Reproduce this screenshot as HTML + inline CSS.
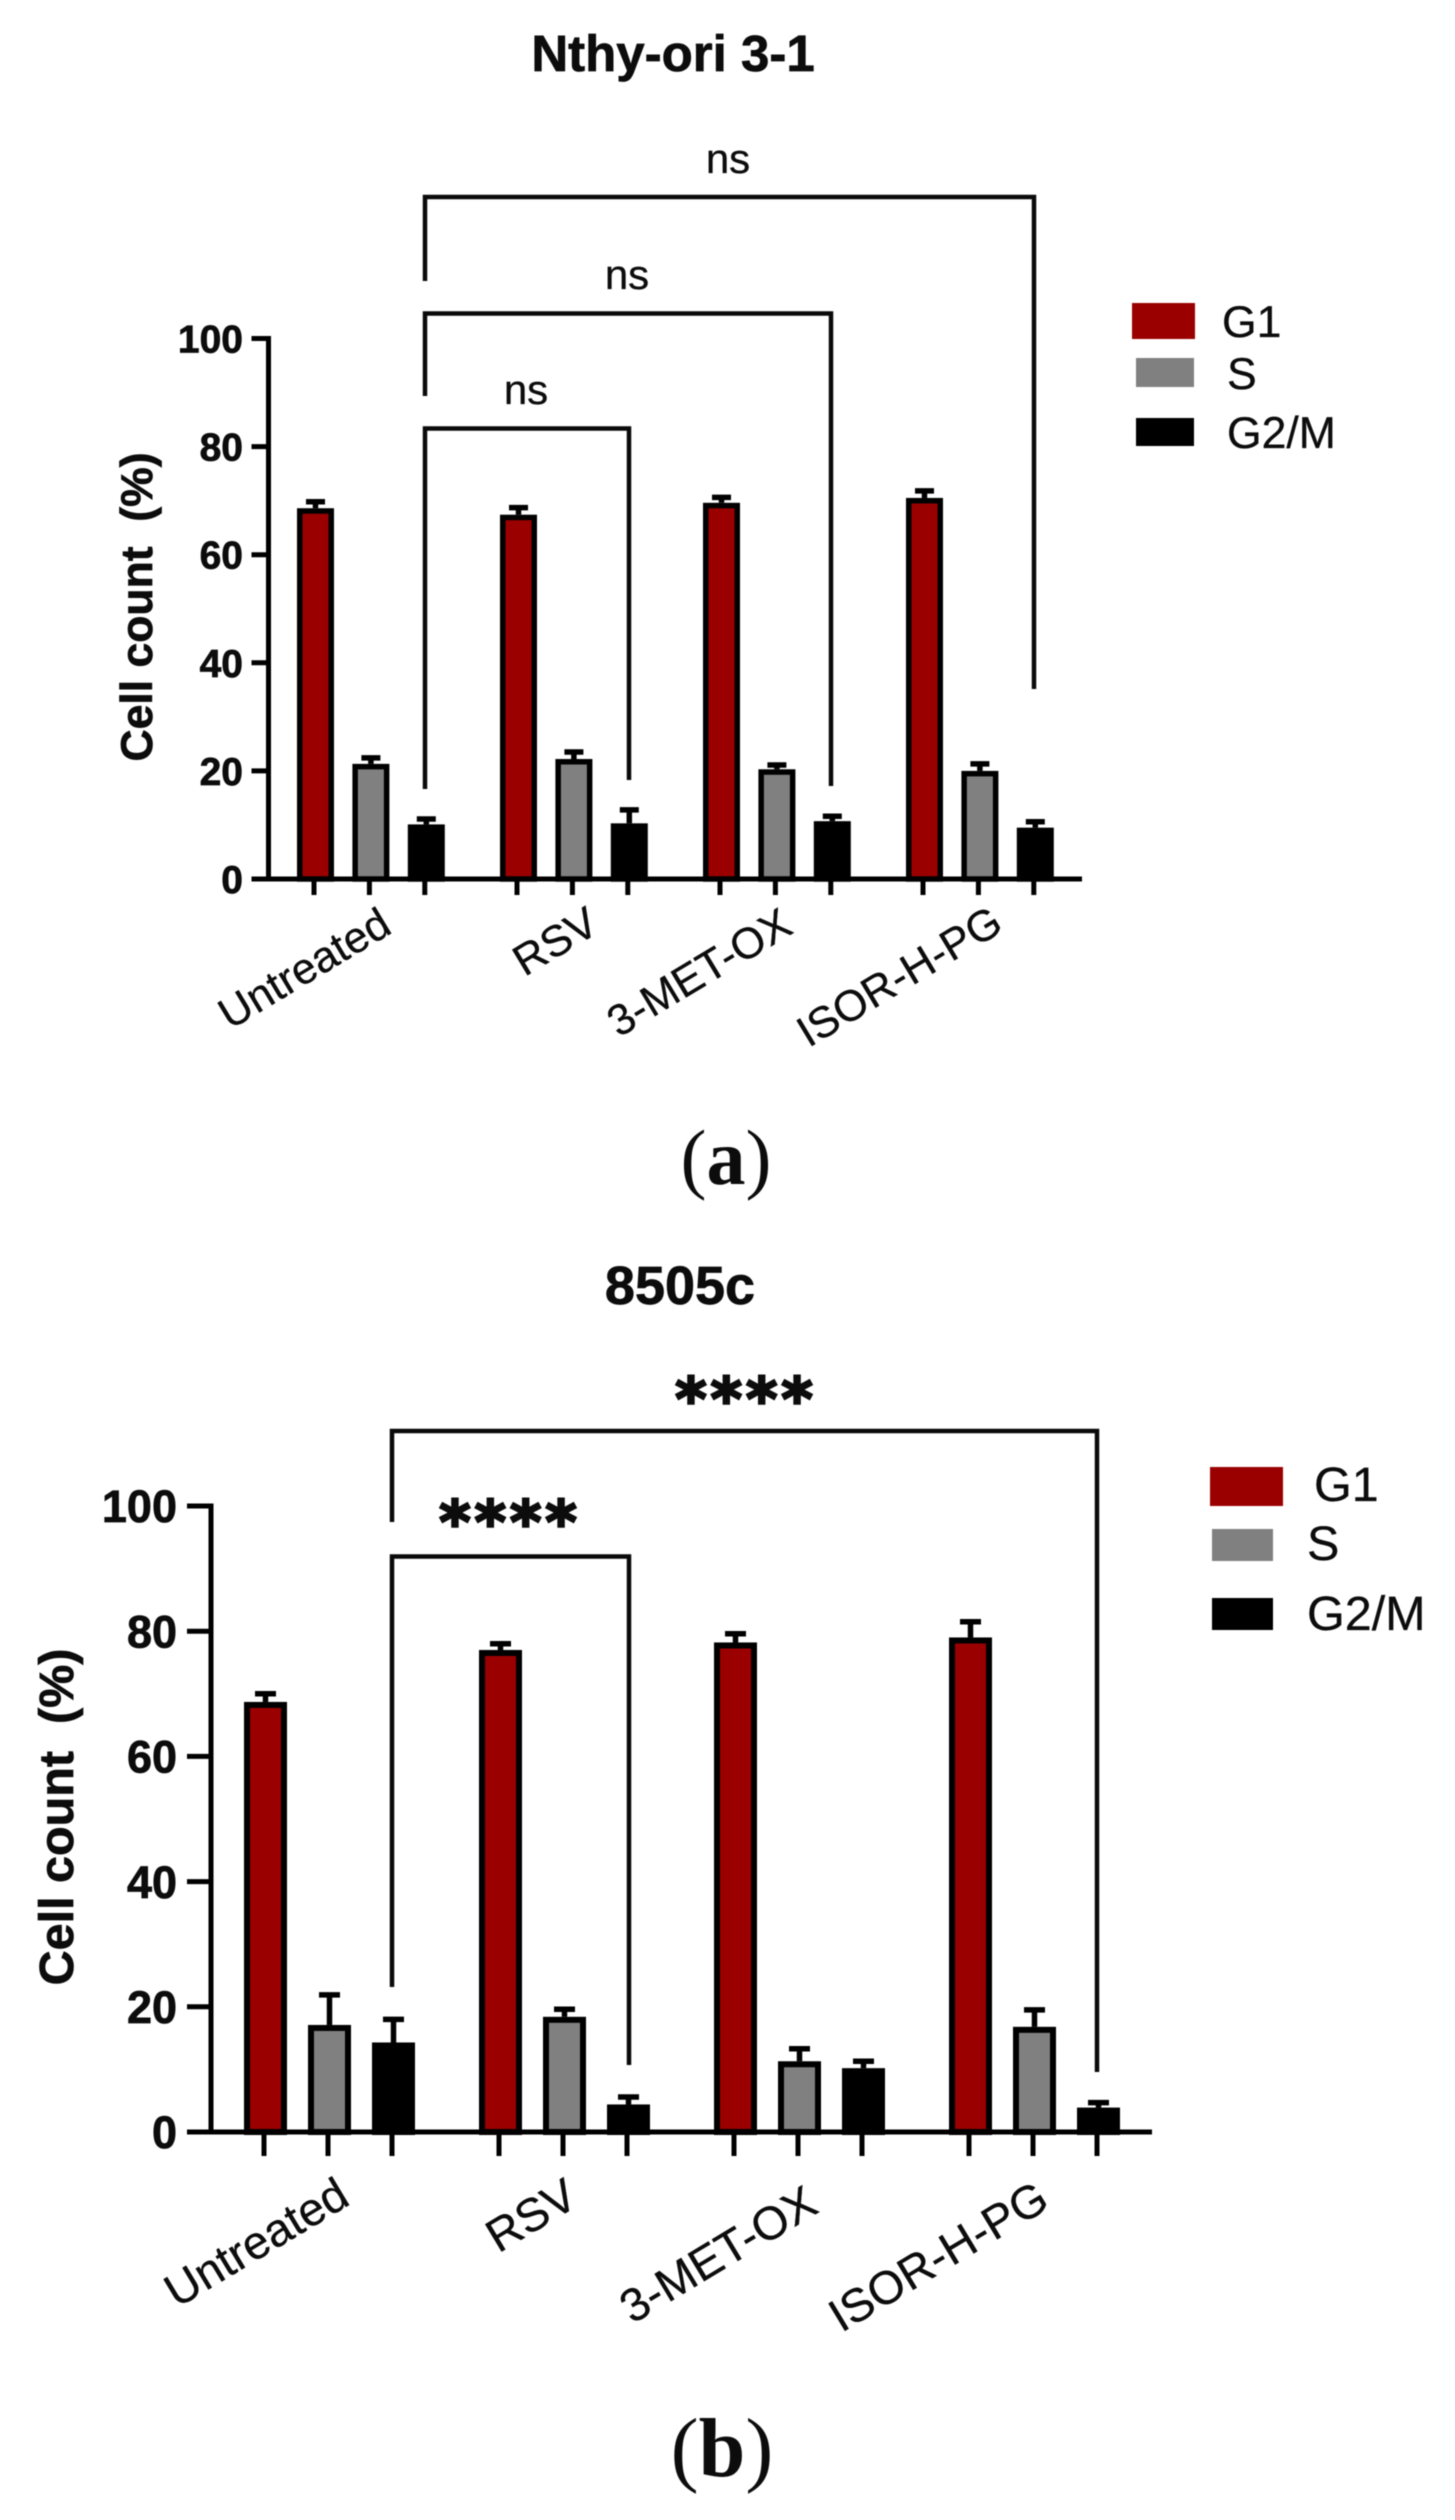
<!DOCTYPE html>
<html lang="en">
<head>
<meta charset="utf-8">
<title>Cell cycle distribution: Nthy-ori 3-1 and 8505c</title>
<style>
  html, body { margin: 0; padding: 0; background: #fff; }
  body { width: 1455px; height: 2520px; overflow: hidden; }
  svg { display: block; filter: blur(0.6px); }
  text { font-family: "Liberation Sans", sans-serif; fill: #0c0c0c; stroke: #0c0c0c; stroke-width: 0.3px; }
  text[font-weight="bold"] { stroke-width: 0.7px; }
  .panel-letter { font-family: "Liberation Serif", serif; stroke-width: 0; }
</style>
</head>
<body>
<svg id="figure" xmlns="http://www.w3.org/2000/svg" width="1455" height="2520" viewBox="0 0 1455 2520">
  <rect width="1455" height="2520" fill="#ffffff"/>
  <g id="panel-a"></g>
  <g id="panel-b"></g>
  <text class="panel-letter" x="726" y="1184" font-size="78" text-anchor="middle">(<tspan font-weight="bold">a</tspan>)</text>
  <text class="panel-letter" x="722" y="2476" font-size="84" text-anchor="middle">(<tspan font-weight="bold">b</tspan>)</text>
</svg>
<script>
// ---- Shared categories and axis ticks ----
const categories = ['Untreated', 'RSV', '3-MET-OX', 'ISOR-H-PG'];
const seriesNames = ['G1', 'S', 'G2/M'];
const tickValues = [0, 20, 40, 60, 80, 100];

// ---- Panel (a) Nthy-ori 3-1 values, % of cells ----
const g1ValuesA = [68.6, 67.4, 69.6, 70.5];
const sValuesA = [21.3, 22.2, 20.3, 20.0];
const g2mValuesA = [10.1, 10.3, 10.7, 9.5];
const g1ErrorsA = [1.2, 1.3, 1.0, 1.3];
const sErrorsA = [1.1, 1.3, 0.8, 1.3];
const g2mErrorsA = [1.0, 2.5, 0.9, 1.1];
const comparisonLabelsA = ['ns', 'ns', 'ns'];

// ---- Panel (b) 8505c values, % of cells ----
const g1ValuesB = [68.7, 77.0, 78.2, 79.0];
const sValuesB = [17.1, 18.4, 11.3, 16.8];
const g2mValuesB = [14.3, 4.4, 10.2, 3.9];
const g1ErrorsB = [1.3, 1.0, 1.4, 2.5];
const sErrorsB = [4.8, 1.2, 2.0, 2.7];
const g2mErrorsB = [3.7, 1.2, 1.1, 0.8];
const comparisonLabelsB = ['****', '****'];

const seriesColors = ['#9b0000', '#808080', '#000000'];
const svgNS = 'http://www.w3.org/2000/svg';

function make(parent, tag, attrs, content) {
  const el = document.createElementNS(svgNS, tag);
  for (const k in attrs) el.setAttribute(k, attrs[k]);
  if (content !== undefined) el.textContent = content;
  parent.appendChild(el);
  return el;
}

function drawPanel(root, cfg, series, errors, comparisons) {
  const yScale = v => cfg.yZero - v * cfg.pxPerUnit;
  const xTick = (group, s) => cfg.xStart + group * cfg.groupStep + s * cfg.barStep;
  const xBar = (group, s) => xTick(group, s) + 1.5;

  const title = make(root, 'text', { x: cfg.titleX, y: cfg.titleY, 'font-size': cfg.titleSize, 'font-weight': 'bold', 'text-anchor': 'middle' }, cfg.title);
  
  

  // Bars and error bars
  series.forEach((values, s) => {
    values.forEach((v, g) => {
      const cx = xBar(g, s);
      const errTop = yScale(v + errors[s][g]);
      const stem = make(root, 'line', { x1: cx, x2: cx, y1: yScale(v), y2: errTop, stroke: '#000', 'stroke-width': cfg.errStroke });
      
      
      const cap = make(root, 'line', { x1: cx - cfg.capHalf, x2: cx + cfg.capHalf, y1: errTop, y2: errTop, stroke: '#000', 'stroke-width': cfg.errStroke });
      
      
      const inner = cfg.barWidth - cfg.barStroke;
      const bar = make(root, 'rect', { x: cx - inner / 2, y: yScale(v) + cfg.barStroke / 2, width: inner, height: Math.max(0, yScale(0) - yScale(v) - cfg.barStroke / 2), fill: seriesColors[s], stroke: '#000', 'stroke-width': cfg.barStroke });
      
      
    });
  });

  // Y axis
  const yAxis = make(root, 'line', { x1: cfg.axisX, x2: cfg.axisX, y1: yScale(100) - cfg.axisStroke / 2, y2: yScale(0), stroke: '#000', 'stroke-width': cfg.axisStroke });
  
  
  tickValues.forEach(t => {
    const tick = make(root, 'line', { x1: cfg.axisX - cfg.yTickLen, x2: cfg.axisX, y1: yScale(t), y2: yScale(t), stroke: '#000', 'stroke-width': cfg.axisStroke });
    
    
    const label = make(root, 'text', { x: cfg.yLabelRight, y: yScale(t) + cfg.yLabelSize * 0.36, 'font-size': cfg.yLabelSize, 'font-weight': 'bold', 'text-anchor': 'end' }, String(t));
    
    
  });
  const yTitle = make(root, 'text', { transform: 'translate(' + cfg.yTitleX + ' ' + cfg.yTitleY + ') rotate(-90)', 'font-size': cfg.yTitleSize, 'font-weight': 'bold', 'text-anchor': 'middle' }, 'Cell count\u00A0\u00A0(%)');
  
  

  // X axis
  const xAxis = make(root, 'line', { x1: cfg.axisX - cfg.yTickLen, x2: cfg.xAxisEnd, y1: yScale(0), y2: yScale(0), stroke: '#000', 'stroke-width': cfg.axisStroke });
  
  
  categories.forEach((c, g) => {
    seriesNames.forEach((n, s) => {
      const x = xTick(g, s);
      const tick = make(root, 'line', { x1: x, x2: x, y1: yScale(0), y2: yScale(0) + cfg.xTickLen, stroke: '#000', 'stroke-width': cfg.axisStroke });
      
      
    });
    const lab = cfg.catAnchors[g];
    const label = make(root, 'text', { transform: 'translate(' + lab[0] + ' ' + lab[1] + ') rotate(' + cfg.catAngle + ')', 'font-size': cfg.catSize, 'text-anchor': 'middle', dy: '0.35em' }, c);
    
    
  });

  // Comparison brackets
  cfg.brackets.forEach((b, i) => {
    const br = make(root, 'polyline', { points: b.x1 + ',' + b.yLeft + ' ' + b.x1 + ',' + b.y + ' ' + b.x2 + ',' + b.y + ' ' + b.x2 + ',' + b.yRight, fill: 'none', stroke: '#0a0a0a', 'stroke-width': cfg.bracketStroke });
    
    
    const t = make(root, 'text', { x: b.labelX, y: b.labelY, 'font-size': cfg.sigSize, 'text-anchor': 'middle', 'font-weight': cfg.sigWeight, 'letter-spacing': cfg.sigSpacing }, comparisons[i]);
    if (cfg.sigFont) t.style.fontFamily = cfg.sigFont;
    if (cfg.sigOutline) t.style.strokeWidth = cfg.sigOutline;
    
    
  });

  // Legend
  seriesNames.forEach((n, s) => {
    const e = cfg.legend[s];
    const swatch = make(root, 'rect', { x: e.x, y: e.y, width: e.w, height: e.h, fill: seriesColors[s] });
    
    
    const text = make(root, 'text', { x: e.tx, y: e.ty, 'font-size': cfg.legendSize }, n);
    
    
  });
}

drawPanel(document.getElementById('panel-a'), {
  title: 'Nthy-ori 3-1', titleX: 673, titleY: 71, titleSize: 51,
  yZero: 879, pxPerUnit: 5.405,
  axisX: 268.5, axisStroke: 5, yTickLen: 17, xTickLen: 16, xAxisEnd: 1082,
  xStart: 314, groupStep: 203, barStep: 55.4,
  barWidth: 37, barStroke: 5.5, capHalf: 9.5, errStroke: 5.5,
  yLabelRight: 243, yLabelSize: 39,
  yTitleX: 152, yTitleY: 607, yTitleSize: 44.5,
  catAngle: -31, catSize: 43.5,
  catAnchors: [[304, 968], [555, 941], [699, 972], [899, 976]],
  bracketStroke: 4.5, sigSize: 42, sigWeight: 'normal', sigSpacing: 0,
  brackets: [
    { x1: 425, x2: 629, y: 428.5, yLeft: 789, yRight: 780, labelX: 526, labelY: 404 },
    { x1: 425, x2: 831, y: 313.5, yLeft: 396, yRight: 786, labelX: 627, labelY: 289 },
    { x1: 425, x2: 1034, y: 197, yLeft: 281, yRight: 689, labelX: 728, labelY: 173 }
  ],
  legendSize: 44.5,
  legend: [
    { x: 1132, y: 303, w: 63, h: 36, tx: 1222, ty: 337 },
    { x: 1136, y: 358, w: 58, h: 29, tx: 1227, ty: 389 },
    { x: 1136, y: 418, w: 58, h: 28, tx: 1227, ty: 448 }
  ]
}, [g1ValuesA, sValuesA, g2mValuesA], [g1ErrorsA, sErrorsA, g2mErrorsA], comparisonLabelsA);

drawPanel(document.getElementById('panel-b'), {
  title: '8505c', titleX: 680, titleY: 1304, titleSize: 54,
  yZero: 2132, pxPerUnit: 6.26,
  axisX: 211, axisStroke: 5, yTickLen: 24, xTickLen: 24, xAxisEnd: 1152,
  xStart: 264, groupStep: 235, barStep: 64,
  barWidth: 43, barStroke: 6, capHalf: 10.5, errStroke: 5.5,
  yLabelRight: 177, yLabelSize: 45,
  yTitleX: 73, yTitleY: 1817, yTitleSize: 48.5,
  catAngle: -31, catSize: 46.5,
  catAnchors: [[256, 2242], [531, 2215], [718, 2254], [938, 2256]],
  bracketStroke: 4.5, sigSize: 60, sigWeight: 'bold', sigSpacing: 4,
  sigFont: '"DejaVu Sans", sans-serif', sigOutline: '2.5px',
  brackets: [
    { x1: 392, x2: 629, y: 1556.5, yLeft: 1987, yRight: 2065, labelX: 510, labelY: 1543 },
    { x1: 392, x2: 1097, y: 1431, yLeft: 1522, yRight: 2072, labelX: 746, labelY: 1420 }
  ],
  legendSize: 48.5,
  legend: [
    { x: 1210, y: 1467, w: 73, h: 39, tx: 1314, ty: 1501 },
    { x: 1212, y: 1529, w: 61, h: 32, tx: 1307, ty: 1560 },
    { x: 1212, y: 1598, w: 61, h: 32, tx: 1307, ty: 1630 }
  ]
}, [g1ValuesB, sValuesB, g2mValuesB], [g1ErrorsB, sErrorsB, g2mErrorsB], comparisonLabelsB);
</script>
</body>
</html>
